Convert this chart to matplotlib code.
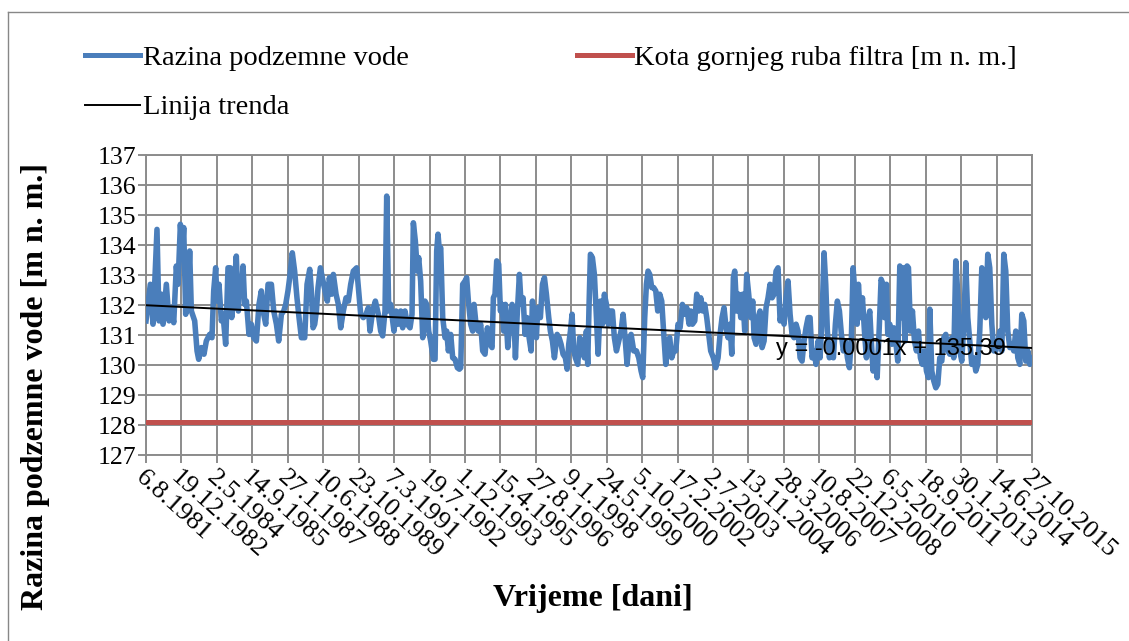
import numpy as np
import matplotlib
matplotlib.use("Agg")
import matplotlib.pyplot as plt
from matplotlib.lines import Line2D

# days since 6.8.1981 and groundwater level [m n. m.]
days = [
    0, 61, 99, 155, 184, 217, 240, 287, 325, 358, 391, 428, 452, 485, 513, 532,
    560, 593, 616, 640, 687, 720, 743, 781, 818, 851, 898, 931, 955, 983, 1002,
    1030, 1063, 1086, 1124, 1157, 1190, 1209, 1237, 1274, 1303, 1321, 1345, 1369,
    1392, 1416, 1453, 1486, 1519, 1557, 1594, 1627, 1661, 1689, 1722, 1769, 1802,
    1840, 1872, 1910, 1943, 1971, 2003, 2027, 2064, 2097, 2130, 2159, 2192, 2239,
    2272, 2310, 2333, 2357, 2380, 2404, 2427, 2460,
    2526, 2558, 2587, 2620, 2643, 2681, 2714, 2747, 2784, 2822, 2855, 2888, 2925,
    2972, 3005, 3029, 3066, 3104, 3137, 3160, 3198, 3236, 3278, 3311, 3339, 3372,
    3396, 3424, 3452, 3480, 3499, 3527, 3560, 3593, 3621, 3654, 3687, 3725, 3753,
    3772, 3800, 3828, 3847, 3875, 3904, 3936, 3960, 3988, 4016, 4054, 4078, 4101,
    4120, 4139, 4158, 4186, 4219, 4242, 4266, 4299, 4327, 4360, 4393, 4421, 4440,
    4468, 4501, 4524, 4548, 4581, 4609, 4628, 4656, 4689, 4722, 4750, 4783, 4816,
    4854, 4882, 4901, 4924, 4948, 4976,
    5000, 5024, 5047, 5071, 5104, 5132, 5165, 5188, 5212, 5235, 5268, 5292, 5320,
    5348, 5376, 5405, 5433, 5452, 5480, 5508, 5527, 5564, 5593, 5621, 5649, 5682,
    5705, 5734, 5762, 5800, 5828, 5856, 5884, 5917, 5941, 5964, 5988, 6011, 6035,
    6058, 6091, 6119, 6152, 6185, 6213, 6232, 6251, 6270, 6298, 6326, 6355, 6378,
    6411, 6439, 6467, 6496, 6524, 6552, 6580, 6608, 6637, 6670, 6702, 6731, 6759,
    6787, 6815, 6844, 6881, 6919, 6952, 6985, 7008, 7036, 7060, 7083, 7107, 7135,
    7163, 7192, 7220, 7248, 7276, 7305, 7333, 7361, 7389, 7417, 7446,
    7474, 7506, 7535, 7568, 7600, 7629, 7662, 7685, 7709, 7742, 7770, 7798, 7826,
    7854, 7883, 7911, 7939, 7967, 8005, 8038, 8071, 8099, 8127, 8155, 8184, 8212,
    8240, 8264, 8287, 8306, 8334, 8362, 8391, 8419, 8447, 8475, 8503, 8532, 8560,
    8579, 8607, 8635, 8663, 8692, 8720, 8748, 8776, 8804, 8833, 8861, 8889, 8917,
    8946, 8974, 9002, 9030, 9058, 9087, 9115, 9143, 9171, 9199, 9228, 9256, 9284,
    9312, 9341, 9369, 9397, 9425, 9453, 9482, 9510, 9538, 9566, 9590, 9613, 9642,
    9670, 9698, 9726, 9754, 9783, 9811, 9839, 9867, 9896, 9924, 9952, 9976,
    10033, 10051, 10080, 10108, 10136, 10164, 10193, 10211, 10230, 10258, 10287,
    10315, 10343, 10371, 10399, 10418, 10447, 10465, 10494, 10522, 10550, 10578,
    10606, 10635, 10663, 10682, 10710, 10738, 10757, 10785, 10813, 10842, 10870,
    10898, 10926, 10954, 10983, 11011, 11039, 11058, 11086, 11114, 11143, 11171,
    11199, 11227, 11255, 11284, 11312, 11340, 11368, 11396, 11425, 11453, 11481,
    11509, 11538, 11566, 11594, 11622, 11650, 11679, 11707, 11735, 11763, 11792,
    11820, 11848, 11876, 11904, 11933, 11961, 11989, 12017, 12046, 12074, 12102,
    12130, 12158, 12187, 12215, 12243, 12271, 12300, 12328, 12356, 12384, 12412,
    12441, 12469, 12497,
]
levels = [
    131.47, 132.69, 131.36, 134.52, 131.47, 132.36, 131.36, 132.69, 131.47, 131.91,
    131.41, 133.30, 132.69, 134.69, 133.80, 134.58, 131.69, 132.36, 133.80, 131.80,
    131.47, 130.47, 130.19, 130.58, 130.36, 130.80, 131.02, 130.91, 132.47, 133.24,
    132.13, 132.69, 131.47, 131.69, 130.69, 133.24, 133.24, 131.58, 132.36, 133.63,
    131.80, 132.91, 132.36, 133.30, 132.02, 132.13, 131.02, 131.36, 130.91, 130.80,
    132.02, 132.47, 131.69, 131.36, 132.69, 132.69, 131.80, 131.36, 130.80, 131.69,
    131.80, 132.02, 132.47, 132.91, 133.74, 133.13, 132.24, 131.58, 130.91, 130.91,
    132.69, 133.19, 132.47, 131.24, 131.36, 131.80, 132.58, 133.24,
    132.47, 132.13, 132.91, 132.36, 133.02, 132.36, 132.02, 131.24, 131.80, 132.24,
    132.13, 132.69, 133.13, 133.24, 132.36, 131.69, 131.58, 131.69, 131.91, 131.13,
    131.80, 132.13, 131.69, 131.13, 130.97, 131.80, 135.63, 131.80, 132.02, 131.47,
    131.13, 131.80, 131.36, 131.80, 131.24, 131.80, 131.36, 131.24, 131.69, 134.74,
    134.13, 133.13, 133.58, 132.80, 130.91, 132.13, 132.02, 131.13, 130.80, 130.19,
    130.19, 133.80, 134.36, 133.80, 133.91, 131.58, 130.91, 131.13, 130.47, 131.02,
    130.24, 130.19, 129.91, 129.86, 129.91, 132.69, 132.80, 132.91, 132.13, 131.36,
    131.13, 132.02, 131.36, 131.13, 131.36, 130.47, 130.36, 131.24, 130.69, 130.58,
    132.24, 132.36, 133.47, 133.36,
    131.80, 132.02, 131.13, 132.02, 130.58, 131.36, 132.02, 131.80, 130.24, 131.58,
    133.02, 132.02, 132.24, 131.02, 131.58, 130.91, 130.47, 132.13, 131.58, 130.91,
    131.91, 131.58, 132.69, 132.91, 132.36, 131.58, 131.13, 130.80, 130.24, 131.02,
    130.91, 130.69, 130.36, 130.24, 129.86, 130.69, 131.13, 131.69, 130.47, 130.24,
    130.02, 130.91, 130.80, 130.24, 131.13, 130.02, 132.02, 133.69, 133.58, 133.02,
    131.58, 130.36, 132.13, 131.36, 132.36, 132.02, 131.36, 131.80, 131.80, 130.91,
    130.47, 130.80, 131.13, 131.69, 130.91, 130.02, 130.80, 131.02, 130.47, 130.47,
    130.24, 129.80, 129.58, 131.58, 132.69, 133.13, 133.02, 132.58, 132.58, 132.47,
    131.80, 132.36, 132.13, 131.02, 130.02, 130.80, 130.91, 130.24, 130.47,
    130.47, 131.36, 131.24, 132.02, 131.69, 131.91, 131.36, 131.80, 131.36, 131.47,
    132.36, 131.80, 132.24, 131.80, 132.02, 131.58, 131.02, 130.47, 130.24, 129.91,
    130.24, 131.02, 131.58, 131.91, 131.24, 130.91, 131.36, 130.36, 132.91, 133.13,
    131.80, 132.36, 131.58, 132.36, 131.13, 133.02, 132.36, 131.58, 132.13, 130.91,
    130.69, 131.58, 131.80, 130.58, 130.80, 131.91, 132.24, 132.69, 132.24, 132.36,
    133.13, 133.24, 131.47, 131.80, 131.36, 132.24, 132.80, 131.69, 131.02, 130.91,
    131.36, 131.13, 130.24, 130.13, 130.80, 131.24, 131.58, 131.58, 130.24, 130.47,
    130.02, 130.80, 130.24, 131.58, 133.74, 132.69, 131.13, 130.24, 130.69, 130.24,
    131.36, 132.13, 131.80, 131.02, 130.47, 130.80, 130.24, 129.91, 130.91, 133.24,
    131.36, 132.69, 131.58, 132.24, 131.13, 130.24, 131.58, 131.80, 130.91, 129.80,
    130.24, 129.58, 131.13, 132.86, 132.69, 131.58, 132.69, 131.02, 131.36, 130.69,
    131.24, 130.80, 130.13, 133.30, 131.58, 133.24, 130.80, 133.30, 133.24, 131.13,
    131.80, 130.80, 130.47, 131.13, 130.24, 130.02, 130.47, 129.80, 129.58, 131.86,
    129.80, 129.47, 129.24, 129.36, 130.24, 130.13, 130.91, 131.02, 130.47, 130.36,
    130.91, 130.24, 133.47, 132.36, 130.47, 130.13, 131.36, 133.41, 131.58, 130.80,
    130.02, 130.24, 129.80, 130.02, 131.13, 133.24, 132.69, 131.58, 133.69, 133.24,
    131.36, 130.47, 130.47, 130.69, 131.13, 130.47, 133.69, 133.13, 131.13, 130.58,
    130.69, 130.47, 131.13, 130.24, 130.02, 131.69, 131.47, 130.13, 130.47, 130.02,
    130.24,
]
filter_level = 128.1  # kota gornjeg ruba filtra

# Excel trend line, x = Excel date serial (6.8.1981 = 29804)
trend_slope = -0.000114
trend_intercept = 135.39
start_serial = 29804

tick_days = list(range(0, 12501, 500))
tick_labels = [
    "6.8.1981", "19.12.1982", "2.5.1984", "14.9.1985", "27.1.1987", "10.6.1988",
    "23.10.1989", "7.3.1991", "19.7.1992", "1.12.1993", "15.4.1995", "27.8.1996",
    "9.1.1998", "24.5.1999", "5.10.2000", "17.2.2002", "2.7.2003", "13.11.2004",
    "28.3.2006", "10.8.2007", "22.12.2008", "6.5.2010", "18.9.2011", "30.1.2013",
    "14.6.2014", "27.10.2015",
]

serif = "Liberation Serif"
plt.rcParams["font.family"] = serif

fig = plt.figure(figsize=(11.29, 6.41), dpi=100)
ax = fig.add_axes([146 / 1129, 1 - 455 / 641, 886 / 1129, 300 / 641])

blue = "#4a7ebb"
red = "#c0504d"
grid_c = "#8c8c8c"

ax.plot(days, levels, color=blue, lw=4.0, solid_joinstyle="round", zorder=3)
ax.plot([tick_days[0], tick_days[-1]], [filter_level, filter_level],
        color=red, lw=3.6, zorder=3)

xt = np.array([tick_days[0], tick_days[-1]])
ax.plot(xt, trend_slope * (xt + start_serial) + trend_intercept,
        color="black", lw=1.4, zorder=4)
ax.text(8890, 130.53, "y = -0.0001x + 135.39", family="Liberation Sans",
        fontsize=17, ha="left", va="center", zorder=5)

ax.set_xlim(tick_days[0], tick_days[-1])
ax.set_ylim(127, 137)
ax.set_yticks(range(127, 138))
ax.set_xticks(tick_days)
ax.set_xticklabels(tick_labels, rotation=-42, ha="left", va="top",
                   rotation_mode="anchor")
ax.tick_params(axis="both", color=grid_c, length=6, width=1.4)
ax.tick_params(axis="x", pad=2, labelsize=19)
ax.tick_params(axis="y", pad=1, labelsize=18.5)
ax.grid(True, color=grid_c, lw=1.4)
ax.set_axisbelow(True)
for s in ax.spines.values():
    s.set_color(grid_c)
    s.set_linewidth(1.4)

ax.set_ylabel("Razina podzemne vode [m n. m.]", fontsize=23, fontweight="bold")
ax.yaxis.set_label_coords(-0.125, 0.227)
ax.yaxis.label.set_va("center")
ax.set_xlabel("Vrijeme [dani]", fontsize=23, fontweight="bold")
ax.xaxis.set_label_coords(0.5045, -0.477)
ax.xaxis.label.set_va("center")

handles = [
    Line2D([], [], color=blue, lw=3.6),
    Line2D([], [], color="black", lw=1.4),
    Line2D([], [], color=red, lw=3.6),
]
labels = ["Razina podzemne vode", "Linija trenda", "Kota gornjeg ruba filtra [m n. m.]"]
fig.legend(handles, labels, loc="upper left", bbox_to_anchor=(85 / 1129, 1 - 45 / 641),
           ncol=2, frameon=False, fontsize=20.5, handlelength=1.93,
           handletextpad=0.1, columnspacing=5.9, labelspacing=0.83,
           borderpad=0, borderaxespad=0)

# outer chart border
fig.add_artist(Line2D([8 / 1129, 8 / 1129], [0, 1 - 12 / 641], color="#878787", lw=1))
fig.add_artist(Line2D([8 / 1129, 1], [1 - 12 / 641, 1 - 12 / 641], color="#878787", lw=1))

fig.savefig("out.png", dpi=100)
